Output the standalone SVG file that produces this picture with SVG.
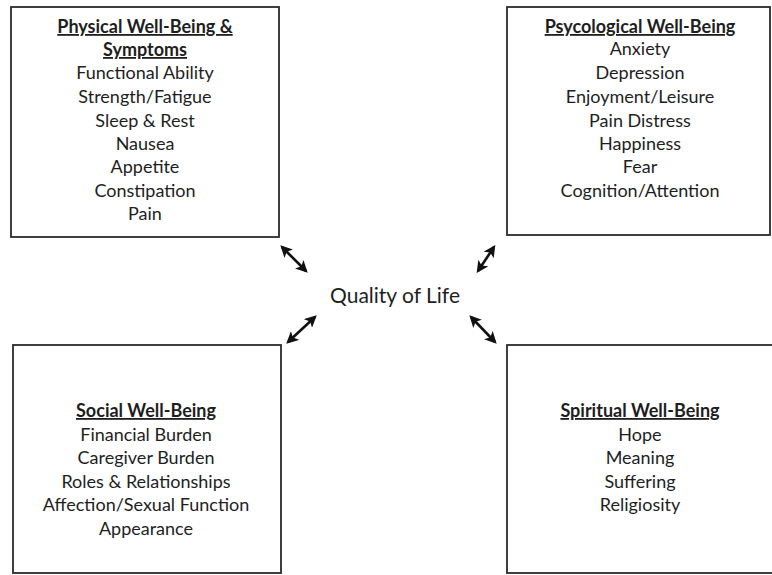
<svg xmlns="http://www.w3.org/2000/svg" width="772" height="575" viewBox="0 0 772 575">
  <style>
    .box { fill: #ffffff; stroke: #2b2b2b; stroke-width: 1.8; }
    text { font-family: Lato, "Liberation Sans", sans-serif; font-size: 18px; fill: #1e1e1e; text-anchor: middle; }
    .title { font-weight: bold; text-decoration: underline; }
    .center { font-size: 21px; }
    .link { stroke: #111111; stroke-width: 2.6; fill: none; marker-start: url(#head); marker-end: url(#head); }
  </style>
  <defs>
    <marker id="head" viewBox="0 0 10 10" refX="8" refY="5" markerWidth="4.6" markerHeight="4.6" orient="auto-start-reverse" markerUnits="strokeWidth">
      <path d="M0,0 L10,5 L0,10 L2.5,5 Z" fill="#111111"/>
    </marker>
  </defs>
  <rect width="772" height="575" fill="#ffffff"/>

  <g id="physical">
    <rect class="box" x="11" y="7" width="268" height="230"/>
    <text class="title" x="145" y="33">Physical Well-Being &amp;</text>
    <text class="title" x="145" y="56">Symptoms</text>
    <text x="145" y="79">Functional Ability</text>
    <text x="145" y="103">Strength/Fatigue</text>
    <text x="145" y="127">Sleep &amp; Rest</text>
    <text x="145" y="150">Nausea</text>
    <text x="145" y="173">Appetite</text>
    <text x="145" y="197">Constipation</text>
    <text x="145" y="220">Pain</text>
  </g>

  <g id="psychological">
    <rect class="box" x="507" y="7" width="263" height="228"/>
    <text class="title" x="640" y="33">Psycological Well-Being</text>
    <text x="640" y="55">Anxiety</text>
    <text x="640" y="79">Depression</text>
    <text x="640" y="103">Enjoyment/Leisure</text>
    <text x="640" y="127">Pain Distress</text>
    <text x="640" y="150">Happiness</text>
    <text x="640" y="173">Fear</text>
    <text x="640" y="197">Cognition/Attention</text>
  </g>

  <g id="social">
    <rect class="box" x="13" y="345" width="268" height="228"/>
    <text class="title" x="146" y="417">Social Well-Being</text>
    <text x="146" y="441">Financial Burden</text>
    <text x="146" y="464">Caregiver Burden</text>
    <text x="146" y="488">Roles &amp; Relationships</text>
    <text x="146" y="511">Affection/Sexual Function</text>
    <text x="146" y="535">Appearance</text>
  </g>

  <g id="spiritual">
    <rect class="box" x="507" y="345" width="275" height="228"/>
    <text class="title" x="640" y="417">Spiritual Well-Being</text>
    <text x="640" y="441">Hope</text>
    <text x="640" y="464">Meaning</text>
    <text x="640" y="488">Suffering</text>
    <text x="640" y="511">Religiosity</text>
  </g>

  <g id="quality-of-life">
    <text class="center" x="395" y="303">Quality of Life</text>
  </g>

  <g id="connectors">
    <line class="link" x1="282" y1="247" x2="306" y2="271"/>
    <line class="link" x1="494" y1="247" x2="478" y2="271"/>
    <line class="link" x1="315" y1="317" x2="288" y2="342"/>
    <line class="link" x1="471" y1="317" x2="495" y2="342"/>
  </g>
</svg>
